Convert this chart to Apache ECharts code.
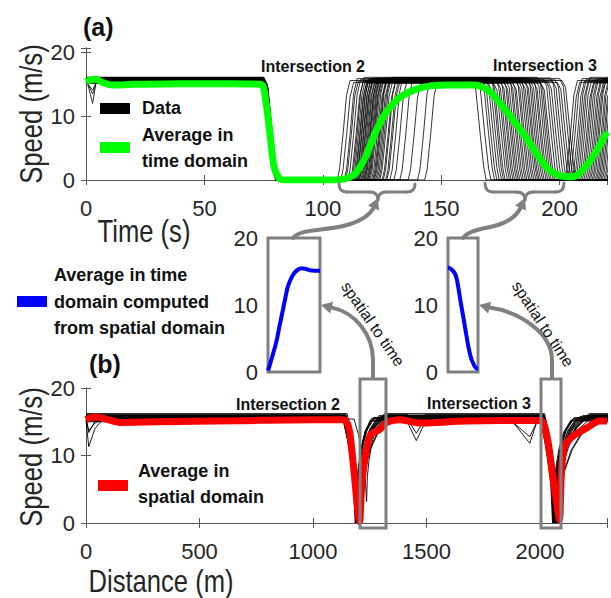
<!DOCTYPE html>
<html>
<head>
<meta charset="utf-8">
<script src="https://cdn.jsdelivr.net/npm/echarts/dist/echarts.min.js"></script>
<style>
html, body { margin: 0; padding: 0; background: #fff; }
#main { width: 611px; height: 598px; }
</style>
</head>
<body>
<div id="main"></div>
<script>
// ---- (a) average in time domain (green)
var greenT = [0, 2, 4, 7, 11, 20, 40, 60, 73.8, 75.9, 78, 79.4, 81.5, 84, 105, 109.5, 113.7, 118, 122, 126.3, 132, 136, 140, 146, 153, 164, 169.7, 174, 179.7, 185.7, 191.3, 195.5, 200, 205.6, 209.8, 214.8, 219.9];
var greenV = [15.4, 15.7, 15.8, 15.3, 14.9, 15.0, 15.1, 15.1, 15.0, 12.4, 6.2, 2.1, 0.3, 0, 0, 0.2, 1.0, 3.6, 7.3, 10.4, 12.8, 13.7, 14.3, 14.8, 14.9, 14.9, 14.1, 12.4, 9.8, 6.7, 3.6, 1.6, 0.7, 0.5, 1.6, 4.1, 7.5];

// ---- (b) average in spatial domain (red)
var redX = [0, 37, 88, 150, 311, 652, 994, 1134, 1157, 1172, 1187, 1197, 1205, 1212, 1222, 1251, 1295, 1325, 1383, 1473, 1541, 1677, 2000, 2030, 2052, 2073, 2085, 2095, 2110, 2147, 2206, 2264, 2295];
var redV = [15.3, 15.7, 15.4, 14.9, 15.0, 15.15, 15.3, 15.3, 14.2, 10.4, 5.4, 1.9, 0.2, 4.0, 7.9, 12.9, 13.9, 14.9, 15.3, 14.8, 14.9, 15.1, 15.2, 12.9, 7.9, 3.0, 0.5, 7.9, 11.4, 12.9, 14.1, 15.1, 15.1];

// ---- insets: average in time domain computed from spatial domain (blue)
var inset1X = [0, 4, 10, 16, 22, 29, 34, 38, 44, 51, 58, 64, 72, 80, 100];
var inset1V = [0.2, 1.2, 2.8, 4.5, 6.8, 9.4, 11.3, 12.7, 13.9, 14.8, 15.3, 15.5, 15.4, 15.2, 15.1];
var inset2X = [0, 6, 14, 23, 29, 34, 42, 51, 60, 68, 75, 80, 86, 91, 97, 100];
var inset2V = [15.6, 15.5, 15.2, 14.7, 13.9, 12.7, 10.5, 8.2, 5.8, 3.8, 2.4, 1.7, 1.1, 0.7, 0.5, 0.5];

// ---- (a) vehicle data: cruise speed and event times (s)
var cruiseA = [15.6, 15.3, 15.9, 15.5, 15.8, 15.4, 16.1, 15.6, 15.2, 15.7, 15.5, 15.9, 15.4, 15.8, 15.3, 15.6, 16.0, 15.5, 15.7, 15.2, 15.9, 15.4, 15.6, 15.8, 15.3, 15.7, 15.5, 16.0, 15.4, 15.6, 15.9, 15.3, 15.7, 16.1, 15.5, 15.2, 15.8, 15.6, 15.4, 16.0, 15.5, 15.7, 15.3, 15.9, 15.6];
var dipA = [0, 0, 3.9, 0, 0, 0, 0, 2.1, 0, 0, 0, 0, 1.3, 0, 0, 0, 0, 0, 0, 0, 0, 0, 0, 0, 0, 0, 0, 0, 0, 0, 0, 0, 0, 0, 0, 0, 0, 0, 0, 0, 0, 0, 0, 0, 0];
var stopA2 = [80.2, 80.8, 80.5, 81.2, 80, 80.6, 81, 80.4, 80.9, 80.3, 81.3, 80.1, 80.7, 80.5, 81.1, 80.2, 80.8, 80.4, 81, 80.6, 80.3, 80.9, 80.5, 81.2, 80.1, 80.7, 80.4, 81, 80.6, 80.8, 80.2, 80.9, 80.5, 81.1, 80.3, 80.7, 80.4, 81.2, 80.6, 80.1, 80.8, 80.5, 81, 80.3, 80.7];
var goA2 = [106, 107.5, 109, 109.5, 110.5, 111.5, 112, 112.5, 113, 113.3, 113.8, 114, 114.5, 114.8, 115.2, 115.5, 116, 116.4, 116.8, 117.2, 117.5, 117.8, 118.3, 118.7, 119, 119.4, 119.8, 120.5, 121, 121.4, 121.8, 122.3, 122.9, 123.5, 124, 125, 125.5, 126.5, 127, 128.3, 130, 132.5, 136, 140, 143];
var stopA3 = [169, 171, 172.5, 173.5, 174.5, 175.5, 176.3, 177, 178, 178.8, 179.5, 180.3, 181, 181.8, 182.5, 183.2, 184, 184.7, 185.5, 186.2, 187, 187.7, 188.5, 189.2, 190, 190.7, 191.3, 192, 192.8, 193.5, 194.3, 195, 195.8, 196.5, 197.3, 198, 199, 200, 201, 202, 203, 204, 205, 206, 207];
var goA3 = [202, 203, 204, 205, 205.8, 206.5, 207.3, 208, 208.8, 209.5, 210.2, 211, 211.7, 212.4, 213, 213.7, 214.3, 215, 215.6, 216.2, 216.8, 217.4, 218, 218.7, 219.3, 220, 221, 222, 223, 224, 225.5, 227, 228.5, 230, 231.5, 233, 234.5, 236, 237.5, 239, 240.5, 242, 243.5, 245, 246.5];
// [seconds from event, fraction of cruise speed]
var fallShapeA = [[-6, 1], [-4.5, 0.93], [-2.5, 0.45], [-1, 0.12], [0, 0]];
var riseShapeA = [[0, 0], [1, 0.1], [2.5, 0.45], [4, 0.85], [5.5, 1]];

// ---- (b) vehicle data: cruise speed and event positions (m)
var cruiseB = [15.5, 15.9, 15.2, 16.1, 15.6, 15.0, 15.8, 15.4, 16.2, 15.3, 15.7, 15.1, 15.9, 15.5, 16.0, 15.2, 15.6, 15.8, 15.4, 15.7];
var startDipB = [0, 0, 3.9, 0, 0, 0, 2.4, 0, 0, 1.6, 0, 0, 0, 0, 0, 0, 0, 0, 0, 0];
var stopB2 = [1188, 1195, 1192, 1200, 1186, 1203, 1197, 1190, 1205, 1194, 1199, 1189, 1201, 1193, 1196, 1206, 1191, 1198, 1236, 1202];
var minB2 = [0, 0, 0, 0, 0, 0, 0, 0, 0, 0, 0, 0, 0, 0, 0, 0, 0, 0, 3.2, 0];
var accB2 = [70, 95, 60, 120, 80, 130, 100, 75, 110, 85, 125, 65, 105, 90, 115, 135, 78, 98, 70, 108];
var dip1B = [0, 0, 0, 1.5, 0, 2.8, 0, 0, 0, 0, 1.2, 0, 0, 2.2, 0, 0, 0, 0, 0, 0];
var dip2B = [0, 0, 0, 0, 0, 0, 0, 3.6, 0, 0, 0, 0, 0, 0, 0, 2.4, 0, 0, 0, 0];
var stopB3 = [2060, 2068, 2055, 2072, 2063, 2078, 2066, 2058, 2075, 2064, 2070, 2061, 2074, 2067, 2071, 2080, 2062, 2069, 2065, 2073];
var accB3 = [90, 120, 80, 150, 100, 170, 110, 85, 140, 95, 160, 75, 130, 105, 145, 180, 88, 125, 115, 135];
// decel: [metres from stop, fraction]; accel: [fraction of accel length, fraction]
var decelShapeB = [[-55, 1], [-35, 0.8], [-20, 0.6], [-8, 0.38], [0, 0]];
var accelShapeB = [[0, 0], [0.05, 0.3], [0.15, 0.5], [0.35, 0.72], [0.6, 0.88], [1, 1]];

var SANS = "'Liberation Sans', Arial, sans-serif";
var GRAY = '#808080';
var INK = '#262626';

function zip(a, b) {
	var out = [];
	for (var i = 0; i < a.length; i++) out.push([a[i], b[i]]);
	return out;
}

function addShape(pts, at, shape, lvl) {
	for (var k = 0; k < shape.length; k++) pts.push([at + shape[k][0], lvl * shape[k][1]]);
}

function vehicleA(i) {
	var lvl = cruiseA[i];
	var pts = [[0, lvl]];
	if (dipA[i] > 0) pts.push([1.2, lvl - dipA[i] * 0.4], [2.8, lvl - dipA[i]], [4.5, lvl]);
	addShape(pts, stopA2[i], fallShapeA, lvl);
	addShape(pts, goA2[i], riseShapeA, lvl);
	addShape(pts, stopA3[i], fallShapeA, lvl);
	addShape(pts, goA3[i], riseShapeA, lvl);
	pts.push([260, lvl]);
	return pts;
}

function stopGo(pts, stop, lo, acc, lvl) {
	var k;
	for (k = 0; k < decelShapeB.length; k++) pts.push([stop + decelShapeB[k][0], lo + (lvl - lo) * decelShapeB[k][1]]);
	for (k = 1; k < accelShapeB.length; k++) pts.push([stop + acc * accelShapeB[k][0], lo + (lvl - lo) * accelShapeB[k][1]]);
}

function vehicleB(i) {
	var lvl = cruiseB[i];
	var pts = [[0, lvl]];
	if (startDipB[i] > 0) pts.push([12, lvl - startDipB[i]], [40, lvl - startDipB[i] * 0.3], [70, lvl]);
	stopGo(pts, stopB2[i], minB2[i], accB2[i], lvl);
	if (dip1B[i] > 0) pts.push([1415, lvl], [1455, lvl - dip1B[i]], [1495, lvl]);
	if (dip2B[i] > 0) pts.push([1870, lvl], [1955, lvl - dip2B[i]], [1990, lvl]);
	stopGo(pts, stopB3[i], 0, accB3[i], lvl);
	pts.push([2400, lvl]);
	return pts;
}

function mainAxisX(grid, max, step, top) {
	return {
		gridIndex: grid, type: 'value', min: 0, max: max, interval: step,
		position: top ? 'top' : 'bottom',
		axisLine: { show: true, lineStyle: { color: '#555', width: 1 } },
		axisTick: { show: true, inside: true, length: 5, lineStyle: { color: '#555' } },
		axisLabel: {
			show: !top, margin: 17, fontSize: 22, fontFamily: SANS, color: INK,
			formatter: function (v) { return v % step === 0 ? String(v) : ''; }
		},
		splitLine: { show: false }
	};
}

function mainAxisY(grid, max, right) {
	return {
		gridIndex: grid, type: 'value', min: 0, max: max, interval: 10,
		position: right ? 'right' : 'left',
		axisLine: { show: true, lineStyle: { color: '#555', width: 1 } },
		axisTick: { show: true, inside: true, length: 5, lineStyle: { color: '#555' } },
		axisLabel: {
			show: !right, margin: 11, fontSize: 22, fontFamily: SANS, color: INK,
			formatter: function (v) { return v % 10 === 0 ? String(v) : ''; }
		},
		splitLine: { show: false }
	};
}

function insetAxisY(grid) {
	return {
		gridIndex: grid, type: 'value', min: 0, max: 20, interval: 10,
		axisLine: { show: false }, axisTick: { show: false }, splitLine: { show: false },
		axisLabel: { margin: 10, fontSize: 22, fontFamily: SANS, color: INK }
	};
}

function head(tx, ty, ux, uy) {
	var len = 11, half = 6;
	var bx = tx - ux * len, by = ty - uy * len;
	return {
		type: 'polygon', z: 100,
		shape: { points: [[tx, ty], [bx - uy * half, by + ux * half], [bx + uy * half, by - ux * half]] },
		style: { fill: GRAY }
	};
}

function seg(x1, y1, x2, y2, w) {
	return { type: 'line', z: 100, shape: { x1: x1, y1: y1, x2: x2, y2: y2 }, style: { stroke: GRAY, lineWidth: w, lineCap: 'round' } };
}

function bez(x1, y1, c1x, c1y, c2x, c2y, x2, y2, w) {
	var shape = { x1: x1, y1: y1, x2: x2, y2: y2, cpx1: c1x, cpy1: c1y };
	if (c2x != null) { shape.cpx2 = c2x; shape.cpy2 = c2y; }
	return { type: 'bezierCurve', z: 100, shape: shape, style: { stroke: GRAY, lineWidth: w, fill: null, lineCap: 'round' } };
}

// curly brace opening downward, tip at xm
function brace(x1, xm, x2, yTop, yMid, yTip) {
	var r = 8;
	return [
		bez(x1, yTop, x1, yMid, null, null, x1 + r, yMid, 3),
		seg(x1 + r, yMid, xm - r, yMid, 3),
		bez(xm - r, yMid, xm, yMid, null, null, xm, yTip, 3),
		bez(xm, yTip, xm, yMid, null, null, xm + r, yMid, 3),
		seg(xm + r, yMid, x2 - r, yMid, 3),
		bez(x2 - r, yMid, x2, yMid, null, null, x2, yTop, 3)
	];
}

function label(txt, x, y, font, opts) {
	opts = opts || {};
	return {
		type: 'text', z: 101, x: x, y: y, rotation: opts.rot || 0,
		scaleX: opts.sx || 1,
		style: {
			text: txt, font: font, fill: opts.fill || '#111',
			textAlign: opts.align || 'center', align: opts.align || 'center',
			textVerticalAlign: 'middle', verticalAlign: 'middle'
		}
	};
}

var series = [];
for (var i = 0; i < cruiseA.length; i++) {
	series.push({
		type: 'line', xAxisIndex: 0, yAxisIndex: 0, data: vehicleA(i),
		symbol: 'none', silent: true, z: 2,
		lineStyle: { color: '#000', width: 0.8 }
	});
}
series.push({
	type: 'line', xAxisIndex: 0, yAxisIndex: 0, data: zip(greenT, greenV),
	symbol: 'none', smooth: 0.3, silent: true, z: 5,
	lineStyle: { color: '#00ff00', width: 7 }
});
for (var j = 0; j < cruiseB.length; j++) {
	series.push({
		type: 'line', xAxisIndex: 2, yAxisIndex: 2, data: vehicleB(j),
		symbol: 'none', silent: true, z: 2,
		lineStyle: { color: '#000', width: 0.9 }
	});
}
series.push({
	type: 'line', xAxisIndex: 2, yAxisIndex: 2, data: zip(redX, redV),
	symbol: 'none', smooth: 0.3, silent: true, z: 5,
	lineStyle: { color: '#ff0000', width: 7 }
});
series.push({
	type: 'line', xAxisIndex: 4, yAxisIndex: 4, data: zip(inset1X, inset1V),
	symbol: 'none', smooth: 0.4, silent: true,
	lineStyle: { color: '#0000ff', width: 4 }
});
series.push({
	type: 'line', xAxisIndex: 5, yAxisIndex: 5, data: zip(inset2X, inset2V),
	symbol: 'none', smooth: 0.4, silent: true,
	lineStyle: { color: '#0000ff', width: 4 }
});

var BOLD18 = 'bold 18px ' + SANS;
var BOLD16 = 'bold 16px ' + SANS;
var NAME = '32px ' + SANS;
var NAMEOPT = { sx: 0.8, fill: INK };

var graphics = [
	// panel letters and axis names
	label('(a)', 83, 27, 'bold 25px ' + SANS, { align: 'left' }),
	label('(b)', 89, 364, 'bold 25px ' + SANS, { align: 'left' }),
	label('Speed (m/s)', 31, 114, NAME, { sx: 0.8, fill: INK, rot: Math.PI / 2 }),
	label('Speed (m/s)', 31, 457, NAME, { sx: 0.8, fill: INK, rot: Math.PI / 2 }),
	label('Time (s)', 144, 231, NAME, NAMEOPT),
	label('Distance (m)', 161, 581, NAME, NAMEOPT),
	// intersection labels
	label('Intersection 2', 313, 66, BOLD16),
	label('Intersection 3', 545, 65, BOLD16),
	label('Intersection 2', 288, 404, BOLD16),
	label('Intersection 3', 479, 403, BOLD16),
	// legend (a)
	{ type: 'rect', z: 100, shape: { x: 100, y: 103, width: 30, height: 11 }, style: { fill: '#000' } },
	label('Data', 142, 108, BOLD18, { align: 'left' }),
	{ type: 'rect', z: 100, shape: { x: 100, y: 142, width: 30, height: 11 }, style: { fill: '#00ff00' } },
	label('Average in', 142, 135, BOLD18, { align: 'left' }),
	label('time domain', 142, 161, BOLD18, { align: 'left' }),
	// legend blue
	{ type: 'rect', z: 100, shape: { x: 17, y: 296, width: 30, height: 11 }, style: { fill: '#0000ff' } },
	label('Average in time', 54, 275, BOLD18, { align: 'left' }),
	label('domain computed', 54, 302, BOLD18, { align: 'left' }),
	label('from spatial domain', 54, 328, BOLD18, { align: 'left' }),
	// legend (b)
	{ type: 'rect', z: 100, shape: { x: 98, y: 480, width: 30, height: 11 }, style: { fill: '#ff0000' } },
	label('Average in', 138, 471, BOLD18, { align: 'left' }),
	label('spatial domain', 138, 497, BOLD18, { align: 'left' }),
	// arrows from insets up to braces
	bez(293, 238, 300, 229, 322, 231, 343, 226, 4),
	bez(343, 226, 360, 222, 369, 216, 373.5, 208, 4),
	head(378, 198, 0.406, -0.914),
	bez(463, 238, 468, 230, 484, 229, 498, 225, 4),
	bez(498, 225, 510, 221, 517, 215, 520.5, 208, 4),
	head(525, 198, 0.406, -0.914),
	// arrows from (b) windows to insets
	seg(373, 378, 373, 360, 4),
	bez(373, 360, 373, 335, 355, 312, 331.7, 307.6, 4),
	head(321, 305, -0.97, -0.24),
	seg(552, 378, 552, 360, 4),
	bez(552, 360, 552, 333, 520, 312, 489.7, 307.6, 4),
	head(479, 305, -0.97, -0.24),
	label('spatial to time', 373, 324, '16px ' + SANS, { rot: -0.97 }),
	label('spatial to time', 543, 324, '16px ' + SANS, { rot: -0.99 }),
	// windows on (b)
	{ type: 'rect', z: 100, shape: { x: 360, y: 379, width: 26, height: 149 }, style: { stroke: GRAY, lineWidth: 3, fill: null } },
	{ type: 'rect', z: 100, shape: { x: 541, y: 379, width: 20, height: 149 }, style: { stroke: GRAY, lineWidth: 3, fill: null } }
];
graphics = graphics.concat(brace(339, 378, 415, 184, 192, 200), brace(485, 525, 564, 183, 192, 200));

var option = {
	animation: false,
	backgroundColor: '#fff',
	grid: [
		{ left: 86, top: 48, width: 521, height: 132 },
		{ left: 86, top: 388, width: 521, height: 135 },
		{ left: 268, top: 238, width: 52, height: 134, show: true, borderColor: GRAY, borderWidth: 3 },
		{ left: 448, top: 238, width: 30, height: 134, show: true, borderColor: GRAY, borderWidth: 3 }
	],
	xAxis: [
		mainAxisX(0, 220, 50, false),
		mainAxisX(0, 220, 50, true),
		mainAxisX(1, 2295, 500, false),
		mainAxisX(1, 2295, 500, true),
		{ gridIndex: 2, type: 'value', min: 0, max: 100, show: false },
		{ gridIndex: 3, type: 'value', min: 0, max: 100, show: false }
	],
	yAxis: [
		mainAxisY(0, 20.7, false),
		mainAxisY(0, 20.7, true),
		mainAxisY(1, 20, false),
		mainAxisY(1, 20, true),
		insetAxisY(2),
		insetAxisY(3)
	],
	series: series,
	graphic: graphics
};

var myChart = echarts.init(document.getElementById('main'), null, { renderer: 'svg' });
myChart.setOption(option);
</script>
</body>
</html>
